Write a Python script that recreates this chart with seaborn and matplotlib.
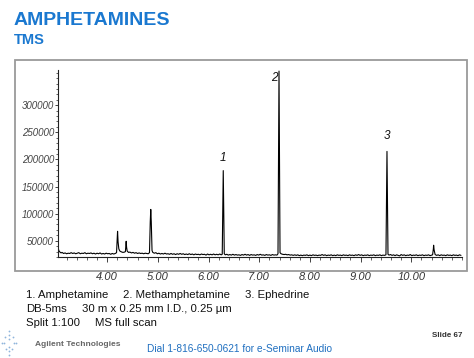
import matplotlib
matplotlib.use("Agg")
import matplotlib.pyplot as plt
from matplotlib.patches import Rectangle
from matplotlib.lines import Line2D
from matplotlib.ticker import MultipleLocator, FixedLocator
import seaborn as sns
import pandas as pd

# ---- data (time in min, abundance) ----
time_min = [
    3.03, 3.05, 3.07, 3.09, 3.11, 3.14, 3.17, 3.20, 3.23, 3.26, 3.29, 3.32, 3.35, 3.38,
    3.41, 3.44, 3.47, 3.50, 3.53, 3.56, 3.59, 3.62, 3.65, 3.68, 3.71, 3.74, 3.77, 3.80,
    3.83, 3.86, 3.89, 3.92, 3.95, 3.98, 4.01, 4.04, 4.07, 4.10, 4.13, 4.16, 4.185, 4.195,
    4.205, 4.215, 4.23, 4.25, 4.28, 4.31, 4.34, 4.36, 4.368, 4.375, 4.383, 4.395, 4.42,
    4.45, 4.48, 4.51, 4.54, 4.57, 4.60, 4.63, 4.66, 4.69, 4.72, 4.75, 4.78, 4.81, 4.835,
    4.85, 4.86, 4.87, 4.885, 4.90, 4.93, 4.96, 4.99, 5.02, 5.05, 5.08, 5.11, 5.14, 5.17,
    5.20, 5.23, 5.26, 5.29, 5.32, 5.35, 5.38, 5.41, 5.44, 5.47, 5.50, 5.53, 5.56, 5.59,
    5.62, 5.65, 5.68, 5.71, 5.74, 5.77, 5.80, 5.83, 5.86, 5.89, 5.92, 5.95, 5.98, 6.01,
    6.04, 6.07, 6.10, 6.13, 6.16, 6.19, 6.22, 6.25, 6.27, 6.28, 6.29, 6.30, 6.31, 6.33,
    6.36, 6.39, 6.42, 6.45, 6.48, 6.51, 6.54, 6.57, 6.60, 6.63, 6.66, 6.69, 6.72, 6.75,
    6.78, 6.81, 6.84, 6.87, 6.90, 6.93, 6.96, 6.99, 7.02, 7.05, 7.08, 7.11, 7.14, 7.17,
    7.20, 7.23, 7.26, 7.29, 7.32, 7.35, 7.37, 7.38, 7.39, 7.40, 7.41, 7.43, 7.46, 7.49,
    7.52, 7.55, 7.58, 7.61, 7.64, 7.67, 7.70, 7.73, 7.76, 7.79, 7.82, 7.85, 7.88, 7.91,
    7.94, 7.97, 8.00, 8.03, 8.06, 8.09, 8.12, 8.15, 8.18, 8.21, 8.24, 8.27, 8.30, 8.33,
    8.36, 8.39, 8.42, 8.45, 8.48, 8.51, 8.54, 8.57, 8.60, 8.63, 8.66, 8.69, 8.72, 8.75,
    8.78, 8.81, 8.84, 8.87, 8.90, 8.93, 8.96, 8.99, 9.02, 9.05, 9.08, 9.11, 9.14, 9.17,
    9.20, 9.23, 9.26, 9.29, 9.32, 9.35, 9.38, 9.41, 9.44, 9.47, 9.50, 9.51, 9.52, 9.53,
    9.54, 9.56, 9.59, 9.62, 9.65, 9.68, 9.71, 9.74, 9.77, 9.80, 9.83, 9.86, 9.89, 9.92,
    9.95, 9.98, 10.01, 10.04, 10.07, 10.10, 10.13, 10.16, 10.19, 10.22, 10.25, 10.28,
    10.31, 10.34, 10.37, 10.40, 10.42, 10.435, 10.44, 10.45, 10.47, 10.50, 10.53, 10.56,
    10.59, 10.62, 10.65, 10.68, 10.71, 10.74, 10.77, 10.80, 10.83, 10.86, 10.89, 10.92,
    10.95, 10.98,
]
abundance = [
    37000, 31000, 29000, 27500, 28500, 26500, 27500, 26000, 27000, 26500, 28000, 26500, 27500, 26000,
    27000, 28000, 26000, 27000, 26500, 28000, 26000, 27000, 26500, 27500, 26000, 27000, 25500, 27000,
    26000, 27500, 25500, 26500, 25500, 27000, 26000, 26500, 25000, 26500, 25500, 26500, 28000, 50000,
    67400, 48000, 35000, 31000, 29500, 28500, 29000, 30000, 40000, 49000, 38000, 31000, 28500,
    29000, 27500, 28500, 27000, 28000, 26500, 27500, 26500, 27000, 26000, 27000, 26500, 26000, 28000,
    85000, 107800, 85000, 32000, 28500, 27000, 28000, 26000, 27000, 25500, 26500, 25500, 27000, 25500,
    26000, 25000, 26500, 25000, 26000, 24500, 26000, 25000, 26500, 25000, 26000, 24500, 25500, 24500,
    26000, 24500, 25500, 24000, 25500, 24500, 25000, 24000, 25500, 24500, 25000, 23500, 25500, 24000,
    25000, 24000, 25500, 24000, 25000, 24000, 25500, 24000, 25000, 100000, 179400, 100000, 26000, 24000,
    25000, 23500, 24500, 23500, 25000, 23500, 24500, 23500, 24000, 23000, 24500, 23500, 25000, 23500,
    24500, 23000, 24500, 23500, 24000, 23000, 24500, 23500, 25000, 23500, 24000, 23000, 24500, 23500,
    24000, 23000, 24500, 23500, 24000, 23500, 26000, 200000, 363000, 200000, 28000, 26000, 25000, 24500,
    25000, 24000, 24500, 23500, 24000, 23000, 24000, 23000, 24000, 22500, 23500, 22500, 23500, 23000,
    24000, 22500, 23500, 22500, 24000, 23000, 23500, 22500, 23500, 23000, 24500, 23000, 24000, 22500,
    23500, 23000, 24000, 22500, 23500, 22500, 24000, 23000, 23500, 22500, 24000, 23000, 23500, 22500,
    24000, 23000, 23500, 22500, 24000, 23000, 24500, 23000, 24000, 22500, 23500, 23000, 24000, 22500,
    23500, 23000, 24000, 22500, 23500, 23000, 24000, 22500, 23500, 23000, 24000, 120000, 214800, 120000,
    25000, 23500, 24500, 23000, 24000, 22500, 24000, 23000, 22000, 24500, 23000, 24000, 22500, 23500,
    23000, 24500, 22500, 23500, 23000, 24000, 22500, 23500, 23000, 24000, 22500, 23500,
    23000, 24000, 22500, 23500, 24000, 35000, 41700, 33000, 24500, 23000, 24000, 22500,
    24000, 23000, 23500, 22500, 24000, 23000, 23500, 22500, 24000, 23000, 23500, 22500,
    24000, 23000,
]

peak_labels = ["1", "2", "3"]
peak_label_x = [6.29, 7.30, 9.52]
peak_label_y = [203000, 350000, 243000]

x_ticks = [4, 5, 6, 7, 8, 9, 10]
x_tick_labels = ["4.00", "5.00", "6.00", "7.00", "8.00", "9.00", "10.00"]
y_ticks = [50000, 100000, 150000, 200000, 250000, 300000]
y_tick_labels = ["50000", "100000", "150000", "200000", "250000", "300000"]

W, H = 474, 358
BLUE = "#1a78d0"

sns.set_style("white")
plt.rcParams["font.family"] = ["Liberation Sans", "DejaVu Sans"]

fig = plt.figure(figsize=(W / 100, H / 100), dpi=100)
fig.patch.set_facecolor("white")

def fx(px):
    return px / W

def fy(py):
    return 1 - py / H

# outer gray frame
fig.add_artist(Rectangle((fx(15), fy(271)), fx(467) - fx(15), fy(60) - fy(271),
                         transform=fig.transFigure, fill=False, edgecolor="#9a9a9a", lw=1.3))

ax = fig.add_axes([fx(58), fy(257), fx(462) - fx(58), fy(70) - fy(257)])
df = pd.DataFrame({"time": time_min, "abundance": abundance})
sns.lineplot(data=df, x="time", y="abundance", ax=ax, color="black", lw=0.8,
             estimator=None, sort=False)
ax.set_xlim(3.03, 11.0)
ax.set_ylim(20000, 365000)
ax.set_xlabel("")
ax.set_ylabel("")
ax.set_facecolor("white")

for s in ["top", "right"]:
    ax.spines[s].set_visible(False)
for s in ["left", "bottom"]:
    ax.spines[s].set_color("#222222")
    ax.spines[s].set_linewidth(0.8)

ax.xaxis.set_major_locator(FixedLocator(x_ticks))
ax.set_xticklabels(x_tick_labels, fontsize=8, fontstyle="italic", color="#333333")
ax.xaxis.set_minor_locator(MultipleLocator(0.2))
ax.yaxis.set_major_locator(FixedLocator(y_ticks))
ax.set_yticklabels(y_tick_labels, fontsize=7, fontstyle="italic", color="#444444")
ax.yaxis.set_minor_locator(MultipleLocator(10000))
ax.tick_params(axis="x", which="major", direction="out", length=3.5, width=0.6,
               colors="#222222", labelcolor="#333333", pad=7, bottom=True)
ax.tick_params(axis="x", which="minor", direction="out", length=2, width=0.5,
               colors="#222222", bottom=True)
ax.tick_params(axis="y", which="major", direction="out", length=2.5, width=0.6,
               colors="#222222", labelcolor="#444444", pad=0.5, left=True)
ax.tick_params(axis="y", which="minor", direction="out", length=1.5, width=0.5,
               colors="#222222", left=True)

for lab, px_, py_ in zip(peak_labels, peak_label_x, peak_label_y):
    ax.text(px_, py_, lab, fontsize=8.5, fontstyle="italic", ha="center", va="center",
            color="#111111")

# title
fig.text(fx(14), fy(25), "AMPHETAMINES", fontsize=14, fontweight="bold", color=BLUE,
         va="baseline", ha="left")
fig.text(fx(14), fy(44.5), "TMS", fontsize=10.5, fontweight="bold", color=BLUE,
         va="baseline", ha="left")

# captions
cap = dict(fontsize=8.2, color="#111111", va="baseline", ha="left")
fig.text(fx(26), fy(298), "1. Amphetamine", **cap)
fig.text(fx(123), fy(298), "2. Methamphetamine", **cap)
fig.text(fx(245), fy(298), "3. Ephedrine", **cap)
fig.text(fx(26), fy(312), "DB-5ms", **cap)
fig.text(fx(82), fy(312), "30 m x 0.25 mm I.D., 0.25 µm", **cap)
fig.text(fx(26), fy(325.5), "Split 1:100", **cap)
fig.text(fx(95), fy(325.5), "MS full scan", **cap)

# footer
fig.text(fx(432), fy(337), "Slide 67", fontsize=5.8, fontweight="bold", color="#333333",
         va="baseline", ha="left")
fig.text(fx(35), fy(345.5), "Agilent Technologies", fontsize=6, fontweight="bold",
         color="#666666", va="baseline", ha="left")
fig.text(fx(147), fy(352), "Dial 1-816-650-0621 for e-Seminar Audio", fontsize=7.3,
         color="#1f6fc0", va="baseline", ha="left")

# small Agilent spark logo (decorative)
logo_x = [9, 9, 9, 9, 9, 4, 14, 2, 16, 5, 13, 6, 12, 9]
logo_y = [331, 335, 339, 347, 351, 343, 343, 343, 343, 337, 337, 349, 349, 355]
fig.add_artist(Line2D([fx(v) for v in logo_x], [fy(v) for v in logo_y],
                      transform=fig.transFigure, ls="none", marker="o", ms=1.3,
                      mfc="#8fb5dc", mec="none"))

fig.savefig("out.png", dpi=100, facecolor="white")
